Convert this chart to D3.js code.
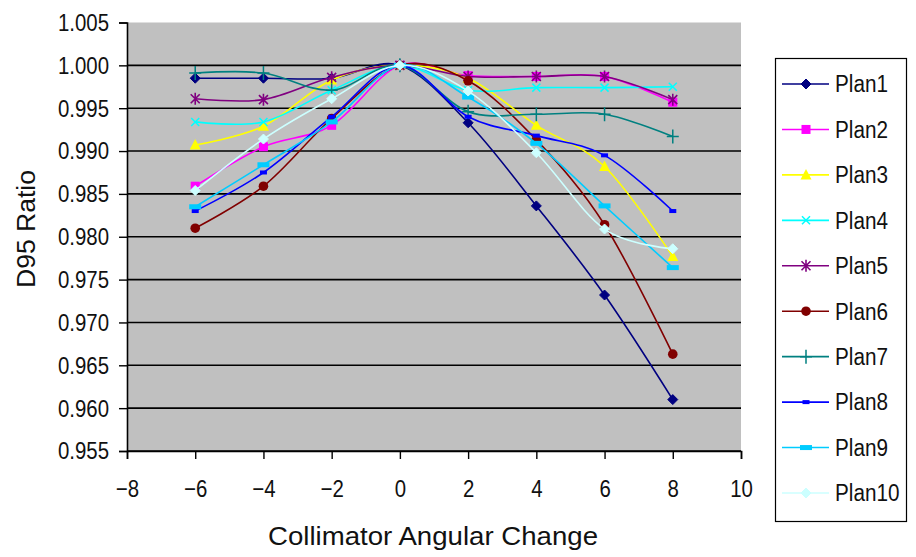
<!DOCTYPE html>
<html><head><meta charset="utf-8">
<script src="https://cdn.jsdelivr.net/npm/d3@7"></script>
<style>
html,body{margin:0;padding:0;background:#fff;}
svg{display:block;font-family:"Liberation Sans",Arial,sans-serif;}
</style></head>
<body>
<svg id="c" width="916" height="557"></svg>
<script>
const xValues = [-6, -4, -2, 0, 2, 4, 6, 8];
const seriesNames = ["Plan1","Plan2","Plan3","Plan4","Plan5","Plan6","Plan7","Plan8","Plan9","Plan10"];
const plan1  = [0.9985, 0.9985, 0.9985, 1.000, 0.9933, 0.9836, 0.9732, 0.9610];
const plan2  = [0.9859, 0.9905, 0.9930, 1.000, 0.9988, 0.9987, 0.9987, 0.9957];
const plan3  = [0.9907, 0.9929, 0.9983, 1.000, 0.9985, 0.9930, 0.9882, 0.9777];
const plan4  = [0.9934, 0.9934, 0.9971, 1.000, 0.9971, 0.9974, 0.9974, 0.9975];
const plan5  = [0.9961, 0.9960, 0.9986, 1.000, 0.9987, 0.9987, 0.9987, 0.9960];
const plan6  = [0.9810, 0.9859, 0.9938, 1.000, 0.9982, 0.9913, 0.9814, 0.9663];
const plan7  = [0.9991, 0.9991, 0.9971, 1.000, 0.9946, 0.9943, 0.9943, 0.9917];
const plan8  = [0.9830, 0.9875, 0.9940, 1.000, 0.9940, 0.9918, 0.9895, 0.9830];
const plan9  = [0.9835, 0.9884, 0.9934, 1.000, 0.9963, 0.9909, 0.9836, 0.9764];
const plan10 = [0.9854, 0.9914, 0.9961, 1.000, 0.9970, 0.9898, 0.9809, 0.9786];
const seriesValues = [plan1, plan2, plan3, plan4, plan5, plan6, plan7, plan8, plan9, plan10];
const seriesColors = ["#000080","#FF00FF","#FFFF00","#00FFFF","#800080","#800000","#008080","#0000FF","#00CCFF","#CCFFFF"];
const seriesMarkers = ["diamond","square","triangle","x","star","circle","plus","dash","longdash","diamond"];
const xTicks = [-8, -6, -4, -2, 0, 2, 4, 6, 8, 10];
const yTicks = [0.955, 0.960, 0.965, 0.970, 0.975, 0.980, 0.985, 0.990, 0.995, 1.000, 1.005];
const xTitle = "Collimator Angular Change";
const yTitle = "D95 Ratio";

const svg = d3.select("#c");
const L = 127, R = 741, T = 22.5, B = 451;
const x = d3.scaleLinear().domain([-8, 10]).range([L, R]);
const y = d3.scaleLinear().domain([0.955, 1.005]).range([B, T]);

function squeeze(sel, sx) {
  sel.each(function () {
    const w = this.getComputedTextLength();
    d3.select(this).attr("textLength", w * sx).attr("lengthAdjust", "spacingAndGlyphs");
  });
}

// plot area
svg.append("rect").attr("x", L).attr("y", T).attr("width", R - L).attr("height", B - T).attr("fill", "#C0C0C0");

// gridlines
svg.append("g").selectAll("line").data(yTicks.filter(d => d < 1.004)).join("line")
  .attr("x1", L).attr("x2", R).attr("y1", d => y(d)).attr("y2", d => y(d))
  .attr("stroke", "#000").attr("stroke-width", 1.6);

// axes
const yAxis = svg.append("g").attr("transform", `translate(${L},0)`)
  .call(d3.axisLeft(y).tickValues(yTicks).tickFormat(d3.format(".3f")).tickSize(8).tickPadding(10));
const xAxis = svg.append("g").attr("transform", `translate(0,${B})`)
  .call(d3.axisBottom(x).tickValues(xTicks).tickFormat(d3.format("d")).tickSize(8).tickPadding(21));
[yAxis, xAxis].forEach(a => {
  a.select(".domain").attr("stroke", "#000").attr("stroke-width", 1.6);
  a.selectAll(".tick line").attr("stroke", "#000").attr("stroke-width", 1.4);
  a.selectAll("text").attr("fill", "#111").style("font-family", "'Liberation Sans',Arial,sans-serif").style("font-size", "24px");
});
yAxis.selectAll("text").attr("dy", "0.33em");
xAxis.selectAll("text").attr("dy", "0.71em");
squeeze(yAxis.selectAll("text"), 0.85);
squeeze(xAxis.selectAll("text"), 0.85);

// titles
const xt = svg.append("text").attr("x", 433).attr("y", 545).attr("text-anchor", "middle")
  .style("font-size", "26px").attr("fill", "#111").text(xTitle);
xt.attr("textLength", 330).attr("lengthAdjust", "spacingAndGlyphs");
const yt = svg.append("text").attr("transform", "translate(35,229) rotate(-90)").attr("text-anchor", "middle")
  .style("font-size", "26px").attr("fill", "#111").text(yTitle);
yt.attr("textLength", 118).attr("lengthAdjust", "spacingAndGlyphs");

// markers
function drawMarker(g, type, color, cx, cy) {
  const s = 5;
  if (type === "diamond") {
    g.append("path").attr("d", `M${cx},${cy - s}L${cx + s},${cy}L${cx},${cy + s}L${cx - s},${cy}Z`).attr("fill", color).attr("stroke", color);
  } else if (type === "square") {
    g.append("rect").attr("x", cx - 4.5).attr("y", cy - 4.5).attr("width", 9).attr("height", 9).attr("fill", color);
  } else if (type === "triangle") {
    g.append("path").attr("d", `M${cx},${cy - 6}L${cx + 5.5},${cy + 4.5}L${cx - 5.5},${cy + 4.5}Z`).attr("fill", color);
  } else if (type === "x") {
    g.append("path").attr("d", `M${cx - 4},${cy - 4}L${cx + 4},${cy + 4}M${cx - 4},${cy + 4}L${cx + 4},${cy - 4}`).attr("stroke", color).attr("stroke-width", 1.5);
  } else if (type === "star") {
    g.append("path").attr("d", `M${cx - 4.5},${cy - 4.5}L${cx + 4.5},${cy + 4.5}M${cx - 4.5},${cy + 4.5}L${cx + 4.5},${cy - 4.5}M${cx},${cy - 6}L${cx},${cy + 6}`).attr("stroke", color).attr("stroke-width", 1.6);
  } else if (type === "circle") {
    g.append("circle").attr("cx", cx).attr("cy", cy).attr("r", 4.8).attr("fill", color);
  } else if (type === "plus") {
    g.append("path").attr("d", `M${cx - 6},${cy}L${cx + 6},${cy}M${cx},${cy - 7}L${cx},${cy + 7}`).attr("stroke", color).attr("stroke-width", 1.5);
  } else if (type === "dash") {
    g.append("rect").attr("x", cx - 3.5).attr("y", cy - 2).attr("width", 7).attr("height", 4).attr("fill", color);
  } else if (type === "longdash") {
    g.append("rect").attr("x", cx - 6).attr("y", cy - 2.5).attr("width", 12).attr("height", 5).attr("fill", color);
  }
}

const line = d3.line().x(d => x(d[0])).y(d => y(d[1])).curve(d3.curveCardinal.tension(0));
const plotG = svg.append("g");
seriesValues.forEach((vals, i) => {
  const pts = xValues.map((xv, j) => [xv, vals[j]]);
  const g = plotG.append("g");
  g.append("path").attr("d", line(pts)).attr("fill", "none").attr("stroke", seriesColors[i]).attr("stroke-width", 1.6);
  pts.forEach(p => drawMarker(g, seriesMarkers[i], seriesColors[i], x(p[0]), y(p[1])));
});

// legend
const lg = svg.append("g");
lg.append("rect").attr("x", 775.5).attr("y", 58.5).attr("width", 131).attr("height", 463)
  .attr("fill", "#fff").attr("stroke", "#000").attr("stroke-width", 1.2);
const ly = d3.scalePoint().domain(seriesNames).range([84, 493]);
seriesNames.forEach((nm, i) => {
  const cy = ly(nm);
  lg.append("line").attr("x1", 782).attr("x2", 829).attr("y1", cy).attr("y2", cy).attr("stroke", seriesColors[i]).attr("stroke-width", 1.6);
  drawMarker(lg, seriesMarkers[i], seriesColors[i], 806, cy);
  const t = lg.append("text").attr("x", 835).attr("y", cy).attr("dy", "0.36em")
    .style("font-size", "23px").attr("fill", "#111").text(nm);
  squeeze(t, 0.9);
});
</script>
</body></html>
